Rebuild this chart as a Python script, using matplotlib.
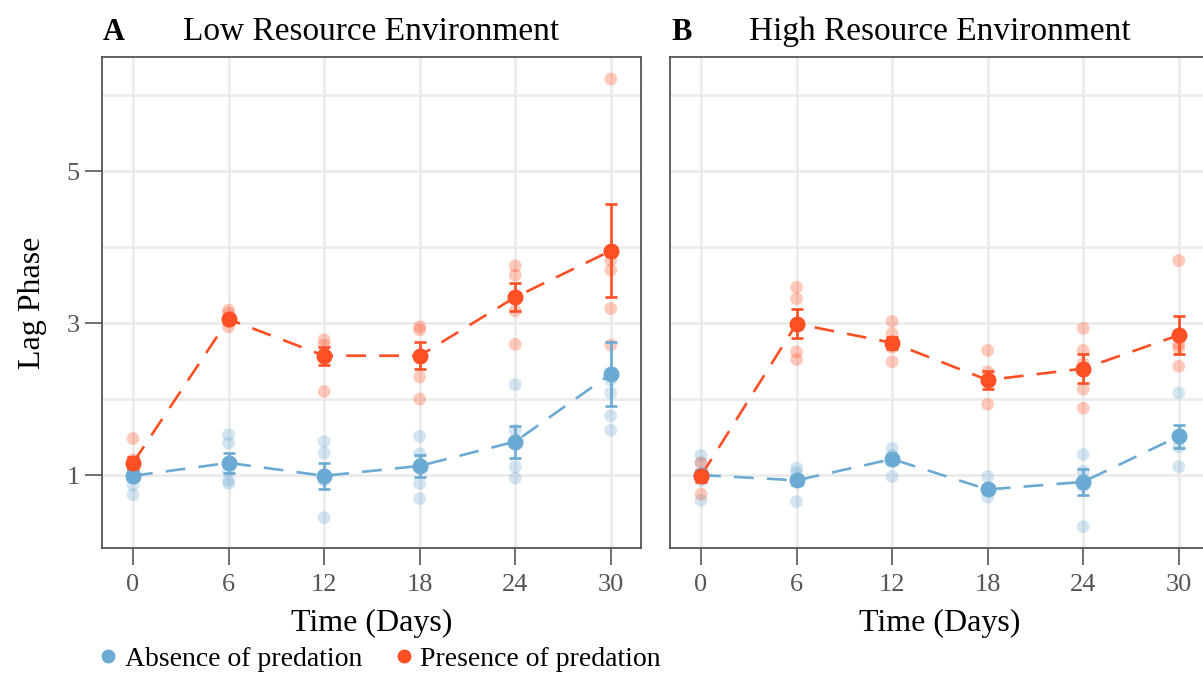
import matplotlib
matplotlib.use("Agg")
import matplotlib.pyplot as plt
from matplotlib.lines import Line2D

plt.rcParams['font.family'] = ['Liberation Serif', 'DejaVu Serif']

days = [0, 6, 12, 18, 24, 30]

# Low resource environment
low_abs_mean = [0.99, 1.16, 0.99, 1.12, 1.44, 2.33]
low_abs_se = [0.06, 0.13, 0.17, 0.15, 0.21, 0.42]
low_pre_mean = [1.16, 3.05, 2.57, 2.57, 3.34, 3.95]
low_pre_se = [0.08, 0.05, 0.12, 0.18, 0.18, 0.61]
low_abs_raw = [[0.74, 0.87, 1.0, 1.1],
               [1.53, 1.42, 1.05, 0.93, 0.89],
               [1.44, 1.29, 0.93, 0.44],
               [1.51, 1.28, 0.89, 0.69],
               [2.19, 1.59, 1.11, 0.96],
               [2.25, 2.08, 1.78, 1.59]]
low_pre_raw = [[1.48, 1.2, 1.1],
               [3.17, 3.13, 3.02, 2.95],
               [2.78, 2.71, 2.6, 2.10],
               [2.95, 2.91, 2.29, 2.0],
               [3.75, 3.63, 3.16, 2.72],
               [6.21, 3.83, 3.70, 3.19, 2.71]]

# High resource environment
high_abs_mean = [1.0, 0.93, 1.21, 0.81, 0.91, 1.51]
high_abs_se = [0.05, 0.06, 0.06, 0.04, 0.17, 0.15]
high_pre_mean = [0.99, 2.99, 2.74, 2.25, 2.40, 2.84]
high_pre_se = [0.08, 0.19, 0.08, 0.12, 0.19, 0.25]
high_abs_raw = [[1.26, 1.16, 0.93, 0.67],
                [1.09, 1.03, 0.65],
                [1.35, 1.26, 0.98],
                [0.98, 0.71],
                [1.27, 1.05, 0.85, 0.32],
                [2.08, 1.37, 1.11]]
high_pre_raw = [[1.16, 1.0, 0.75],
                [3.47, 3.32, 2.62, 2.52],
                [3.02, 2.86, 2.68, 2.49],
                [2.64, 2.36, 1.93],
                [2.93, 2.64, 2.47, 2.13, 1.88],
                [3.82, 2.72, 2.67, 2.43]]

titles = ['Low Resource Environment', 'High Resource Environment']
letters = ['A', 'B']
groups = ['Absence of predation', 'Presence of predation']

blue = '#6BAAD3'
red = '#FF4F24'
W, H = 1203, 673

fig = plt.figure(figsize=(W / 100, H / 100), dpi=100)
ax_a = fig.add_axes([102 / W, 1 - 548 / H, 539 / W, 491 / H])
ax_b = fig.add_axes([670 / W, 1 - 548 / H, 539 / W, 491 / H])

panels = [
    (ax_a, low_abs_raw, low_abs_mean, low_abs_se, low_pre_raw, low_pre_mean, low_pre_se),
    (ax_b, high_abs_raw, high_abs_mean, high_abs_se, high_pre_raw, high_pre_mean, high_pre_se),
]

title_y = 1 - 40 / H  # shared baseline of panel letter and title

for i, (ax, a_raw, a_mean, a_se, p_raw, p_mean, p_se) in enumerate(panels):
    # raw replicate points
    for raw, col in [(a_raw, blue), (p_raw, red)]:
        for d, vals in zip(days, raw):
            ax.scatter([d] * len(vals), vals, s=85, color=col, alpha=0.3,
                       edgecolors='none', zorder=3)
    # means, dashed lines and error bars
    for mean, se, col in [(a_mean, a_se, blue), (p_mean, p_se, red)]:
        ax.plot(days, mean, color=col, lw=1.9, dashes=(7.5, 5), zorder=4)
        ax.errorbar(days, mean, yerr=se, fmt='o', color=col, ms=10.5,
                    elinewidth=1.9, capsize=4, capthick=1.9, zorder=5)

    ax.set_xlim(-1.95, 31.9)
    ax.set_ylim(0.04, 6.5)
    ax.set_xticks(days)
    ax.set_yticks([1, 3, 5])
    ax.set_yticks([2, 4, 6], minor=True)
    ax.grid(True, which='both', color='#EBEBEB', lw=2, zorder=0)
    ax.set_axisbelow(True)
    for sp in ax.spines.values():
        sp.set_color('#555555')
        sp.set_linewidth(1.3)
    ax.tick_params(axis='x', length=12, width=1.2, color='#555555',
                   labelsize=19, labelcolor='#555555', pad=7)
    ax.tick_params(axis='y', which='major', length=12, width=1.2, color='#555555',
                   labelsize=19, labelcolor='#555555', pad=4)
    ax.tick_params(axis='y', which='minor', length=0)
    ax.set_xlabel('Time (Days)', fontsize=23, labelpad=9)

    pos = ax.get_position()
    fig.text(pos.x0 + 0.5 * (641 - 102) / W, title_y, titles[i], fontsize=24,
             ha='center', va='baseline')
    fig.text(pos.x0 + 1 / W, title_y, letters[i], fontsize=22,
             fontweight='bold', ha='left', va='baseline')

ax_b.tick_params(axis='y', which='both', left=False, labelleft=False)
ax_a.set_ylabel('Lag Phase', fontsize=23, labelpad=14)

handles = [Line2D([], [], marker='o', ls='none', color=blue, ms=9),
           Line2D([], [], marker='o', ls='none', color=red, ms=9)]
fig.legend(handles, groups, loc='center left', bbox_to_anchor=(83 / W, 1 - 659 / H),
           ncol=2, frameon=False, fontsize=20, handletextpad=0.1,
           columnspacing=1.0, handlelength=1.0, borderaxespad=0)

fig.savefig('out.png', dpi=100)
